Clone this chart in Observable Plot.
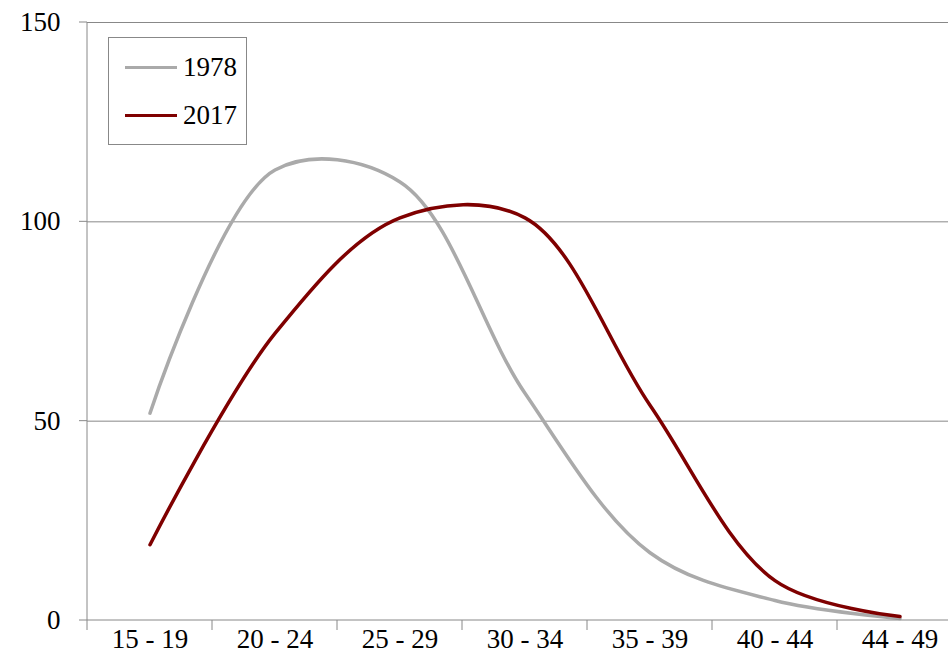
<!DOCTYPE html>
<html><head>
<script src="https://cdn.jsdelivr.net/npm/d3@7"></script>
<script src="https://cdn.jsdelivr.net/npm/@observablehq/plot@0.6"></script>
<style>
body{margin:0;background:#fff;font-family:"Liberation Serif",serif}
#wrap{position:relative;width:948px;height:670px;overflow:hidden}
#legend{position:absolute;left:108px;top:37px;width:137px;height:106px;border:1px solid #888;background:#fff;font-size:27px}
.row{position:absolute;left:16px;display:flex;align-items:center}
.sw{width:52px;height:3px;margin-right:6px}
</style></head>
<body><div id="wrap"><div id="chart"></div>
<div id="legend">
<div class="row" style="top:14px"><div class="sw" style="background:#aaaaaa"></div>1978</div>
<div class="row" style="top:62px"><div class="sw" style="background:#7f0000"></div>2017</div>
</div></div>
<script>
const ages = ["15 - 19","20 - 24","25 - 29","30 - 34","35 - 39","40 - 44","44 - 49"];
const v1978 = [52, 113, 110, 57, 17, 5, 0.5];
const v2017 = [19, 72, 101, 101, 54, 10, 1];
const yTicks = [0,50,100,150];
const data = [
  ...ages.map((a,i)=>({age:a,v:v1978[i],s:"1978"})),
  ...ages.map((a,i)=>({age:a,v:v2017[i],s:"2017"}))
];
const W=948, ML=87, MR=0, MT=22, H=670, MB=50;
const chart = Plot.plot({
  width:W, height:H, marginLeft:ML, marginRight:MR, marginTop:MT, marginBottom:MB,
  style:{fontFamily:"Liberation Serif, serif", fontSize:"27px", color:"#000", overflow:"visible"},
  x:{domain:ages, type:"band", padding:0, range:[87,962], label:null},
  y:{domain:[0,150], ticks:yTicks, label:null},
  color:{domain:["1978","2017"], range:["#aaaaaa","#7f0000"]},
  marks:[
    Plot.gridY([50,100,150],{stroke:"#888",strokeOpacity:1}),
    Plot.axisY(yTicks,{tickSize:0,tickPadding:27,fontSize:27,label:null}),
    Plot.axisX({tickSize:0,tickPadding:8,fontSize:27,label:null}),
    Plot.line(data,{x:"age",y:"v",stroke:"s",strokeWidth:3.5,curve:"catmull-rom"})
  ]
});
const x = chart.scale("x"), y = chart.scale("y");
const svg = d3.select(chart);
const g = svg.append("g").attr("stroke","#888");
const y0 = y.apply(0);
g.append("line").attr("x1",ML).attr("x2",W).attr("y1",y0).attr("y2",y0);
g.append("line").attr("x1",ML).attr("x2",ML).attr("y1",y.apply(150)).attr("y2",y0);
const bw = x.bandwidth;
for(let i=0;i<ages.length;i++){
  const xx = x.apply(ages[i]);
  g.append("line").attr("x1",xx).attr("x2",xx).attr("y1",y0).attr("y2",y0+10);
}
yTicks.forEach(t=>g.append("line").attr("x1",ML-8).attr("x2",ML).attr("y1",y.apply(t)).attr("y2",y.apply(t)));
document.getElementById("chart").append(chart);
</script></body></html>
